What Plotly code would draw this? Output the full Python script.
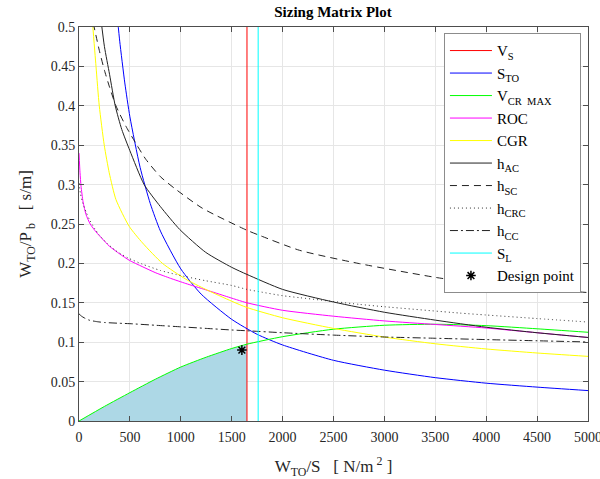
import numpy as np
import plotly.graph_objects as go

# ---- constraint curves: wing loading W_TO/S [N/m^2] vs power loading W_TO/P_b [s/m] ----
# stall speed and landing distance limits (vertical constraints)
v_s_limit = 1650
s_l_limit = 1760

# take-off distance
sto_x = [380, 400, 450, 500, 600, 700, 800, 1000, 1200, 1500, 1750, 2000, 2500, 3000, 3500, 4000, 4500, 5000]
sto_y = [0.508, 0.482, 0.429, 0.386, 0.322, 0.276, 0.241, 0.193, 0.161, 0.129, 0.110, 0.0965, 0.077,
         0.0645, 0.055, 0.048, 0.043, 0.0386]

# maximum cruise speed
vcr_x = [0, 250, 500, 750, 1000, 1250, 1500, 1650, 2000, 2500, 3000, 3500, 4000, 4500, 5000]
vcr_y = [0, 0.0185, 0.036, 0.053, 0.0685, 0.081, 0.092, 0.0975, 0.107, 0.1165, 0.1215, 0.1228, 0.121,
         0.117, 0.1126]

# rate of climb
roc_x = [0, 10, 20, 40, 69, 110, 167, 230, 297, 400, 493, 620, 755, 900, 1049, 1245, 1450, 1650, 2000,
         2500, 3000, 3500, 4000, 4500, 5000]
roc_y = [0.34, 0.315, 0.298, 0.278, 0.262, 0.25, 0.24, 0.231, 0.222, 0.212, 0.204, 0.196, 0.188, 0.181,
         0.1745, 0.1665, 0.158, 0.150, 0.1405, 0.133, 0.127, 0.1225, 0.118, 0.112, 0.106]

# climb gradient
cgr_x = [130, 167, 199, 248, 297, 363, 493, 624, 820, 1049, 1245, 1500, 1650, 2000, 2500, 3000, 3500,
         4000, 4500, 5000]
cgr_y = [0.51, 0.45, 0.40, 0.35, 0.315, 0.281, 0.247, 0.226, 0.2, 0.18, 0.167, 0.152, 0.144, 0.131,
         0.1175, 0.1065, 0.098, 0.0914, 0.0863, 0.082]

# absolute ceiling
hac_x = [215, 250, 300, 356, 420, 500, 640, 800, 990, 1245, 1500, 1650, 2000, 2500, 3000, 3500, 4000,
         4500, 5000]
hac_y = [0.51, 0.475, 0.44, 0.40, 0.37, 0.343, 0.30, 0.272, 0.243, 0.214, 0.195, 0.186, 0.167, 0.151,
         0.138, 0.128, 0.119, 0.112, 0.106]

# service ceiling
hsc_x = [140, 200, 250, 297, 363, 461, 560, 657, 800, 951, 1212, 1650, 1775, 2167, 2755, 3539, 4000,
         4500, 5000]
hsc_y = [0.505, 0.47, 0.445, 0.425, 0.40, 0.374, 0.352, 0.332, 0.31, 0.294, 0.270, 0.242, 0.2355,
         0.2166, 0.1997, 0.1815, 0.174, 0.168, 0.163]

# cruise ceiling
hcrc_x = [0, 15, 36, 70, 101, 150, 199, 280, 363, 480, 624, 800, 951, 1055, 1245, 1500, 1650, 1775,
          2000, 2167, 2755, 3000, 3735, 4000, 4500, 5000]
hcrc_y = [0.302, 0.288, 0.277, 0.265, 0.256, 0.245, 0.236, 0.225, 0.216, 0.207, 0.199, 0.191, 0.186,
          0.183, 0.178, 0.172, 0.167, 0.164, 0.159, 0.1565, 0.148, 0.145, 0.137, 0.1345, 0.13, 0.1256]

# combat ceiling
hcc_x = [0, 25, 50, 100, 180, 250, 400, 500, 750, 1000, 1250, 1500, 1650, 2000, 2500, 3000, 3500,
         4000, 4500, 5000]
hcc_y = [0.136, 0.133, 0.131, 0.128, 0.126, 0.125, 0.124, 0.1235, 0.1215, 0.1195, 0.1175, 0.1155,
         0.1145, 0.112, 0.109, 0.1066, 0.105, 0.1033, 0.1018, 0.1003]

# chosen design point
design_x = [1600]
design_y = [0.09]

x_range = [0, 5000]
y_range = [0, 0.5]

SERIF = "Liberation Serif"
DARK = "#262626"

fig = go.Figure()

# acceptable design space: below the cruise-speed curve, left of the stall limit
vcr_x_arr = np.array(vcr_x)
mask = vcr_x_arr <= v_s_limit
fig.add_trace(go.Scatter(
    x=list(vcr_x_arr[mask]), y=list(np.array(vcr_y)[mask]),
    mode="lines", line=dict(color="rgba(0,0,0,0)", width=0, shape="spline", smoothing=0.6),
    fill="tozeroy", fillcolor="#ADD8E6", showlegend=False, hoverinfo="skip",
))


def curve(x, y, name, color, dash="solid"):
    fig.add_trace(go.Scatter(
        x=x, y=y, name=name, mode="lines",
        line=dict(color=color, width=1, dash=dash, shape="spline", smoothing=0.6),
    ))


curve([v_s_limit, v_s_limit], y_range, "V<sub>S</sub>", "#ff0000")
curve(sto_x, sto_y, "S<sub>TO</sub>", "#0000ff")
curve(vcr_x, vcr_y, "V<sub>CR  MAX</sub>", "#00ff00")
curve(roc_x, roc_y, "ROC", "#ff00ff")
curve(cgr_x, cgr_y, "CGR", "#ffff00")
curve(hac_x, hac_y, "h<sub>AC</sub>", "#222222")
curve(hsc_x, hsc_y, "h<sub>SC</sub>", "#222222", dash="7px,5px")
curve(hcrc_x, hcrc_y, "h<sub>CRC</sub>", "#333333", dash="1px,3px")
curve(hcc_x, hcc_y, "h<sub>CC</sub>", "#222222", dash="8px,3px,2px,3px")
curve([s_l_limit, s_l_limit], y_range, "S<sub>L</sub>", "#00ffff")

fig.add_trace(go.Scatter(
    x=design_x, y=design_y, name="Design point", mode="markers",
    marker=dict(symbol="asterisk-open", size=8, color="#000000", line=dict(color="#000000", width=1.5)),
))

axis_common = dict(
    showgrid=True, gridcolor="#e6e6e6", gridwidth=1,
    zeroline=False, showline=True, linecolor="#4d4d4d", linewidth=1,
    mirror="allticks", ticks="inside", ticklen=5, tickcolor="#4d4d4d",
    tickfont=dict(family=SERIF, size=14, color=DARK),
    ticklabeloverflow="allow", automargin=False,
    layer="above traces",
)

fig.update_layout(
    width=600, height=479,
    margin=dict(l=79, r=12, t=27, b=58),
    paper_bgcolor="white", plot_bgcolor="white",
    title=dict(text="<b>Sizing Matrix Plot</b>", x=0.555, xanchor="center", y=0.975, yanchor="middle",
               font=dict(family=SERIF, size=15, color="#000000")),
    xaxis=dict(range=x_range, dtick=500, tick0=0, ticklabelstandoff=3,
               title=dict(text="W<sub>TO</sub>/S   [ N/m<sup> 2</sup> ]", standoff=16,
                          font=dict(family=SERIF, size=17, color=DARK)),
               **axis_common),
    yaxis=dict(range=y_range, dtick=0.05, tick0=0,
               title=dict(text="W<sub>TO</sub>/P<sub> b</sub>   [ s/m]", standoff=14,
                          font=dict(family=SERIF, size=17, color=DARK)),
               **axis_common),
    legend=dict(x=0.717, y=0.984, xanchor="left", yanchor="top",
                bgcolor="white", bordercolor="#8c8c8c", borderwidth=1,
                font=dict(family=SERIF, size=15, color="#000000"),
                itemwidth=42, traceorder="normal"),
    showlegend=True,
)

fig.write_html("out.html")
